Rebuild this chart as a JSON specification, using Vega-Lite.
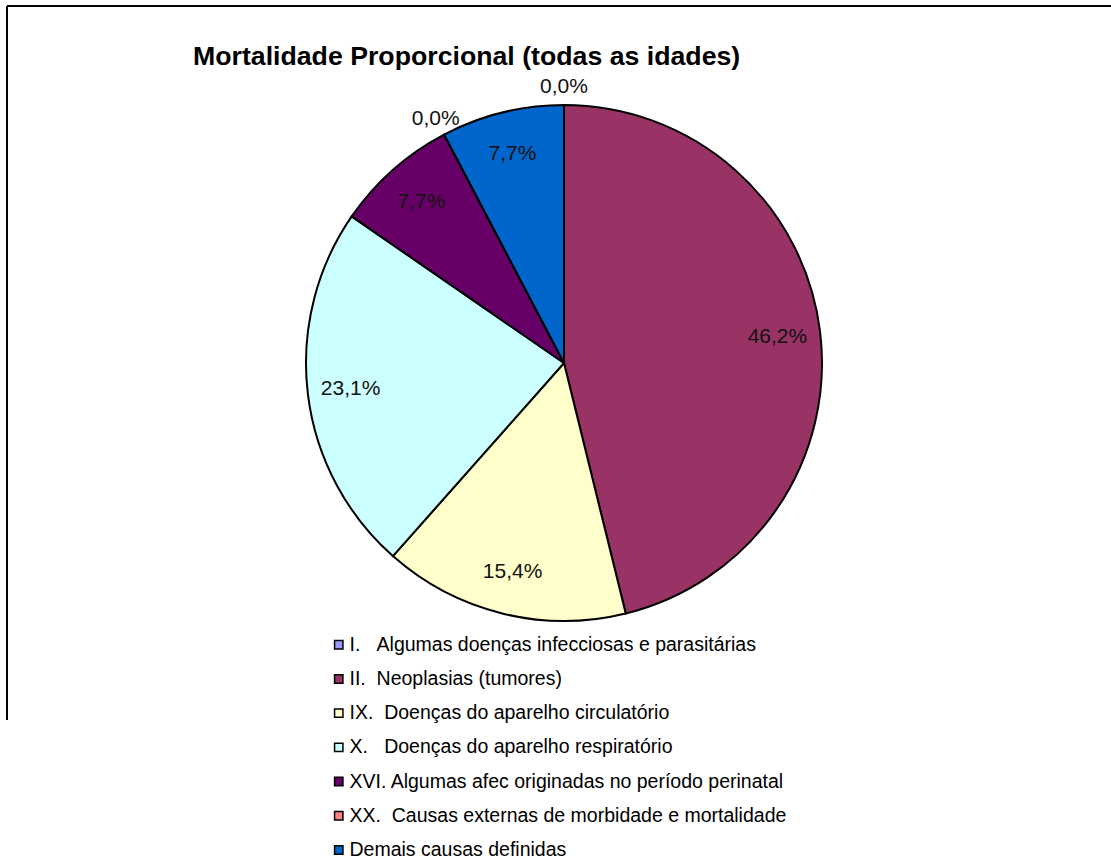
{
  "$schema": "https://vega.github.io/schema/vega-lite/v6.json",
  "autosize": {"type": "none"},
  "padding": {"left": 7, "top": 6, "right": 0, "bottom": 148},
  "width": 1114,
  "height": 714,
  "background": "#ffffff",
  "view": {"stroke": "#000000", "strokeWidth": 2, "strokeDash": [1114, 1828, 714, 0]},
  "title": {
    "text": "Mortalidade Proporcional (todas as idades)",
    "anchor": "start",
    "frame": "group",
    "orient": "top",
    "offset": -86,
    "baseline": "alphabetic",
    "dx": 186,
    "font": "Liberation Sans",
    "fontSize": 26.7,
    "fontWeight": "bold",
    "color": "#000000"
  },
  "data": {
    "values": [
      {"ord": 1, "cause": "I.\u00a0\u00a0\u00a0Algumas doenças infecciosas e parasitárias", "pct": 0.0, "label": "0,0%"},
      {"ord": 2, "cause": "II.\u00a0\u00a0Neoplasias (tumores)", "pct": 46.2, "label": "46,2%"},
      {"ord": 3, "cause": "IX.\u00a0\u00a0Doenças do aparelho circulatório", "pct": 15.4, "label": "15,4%"},
      {"ord": 4, "cause": "X.\u00a0\u00a0\u00a0Doenças do aparelho respiratório", "pct": 23.1, "label": "23,1%"},
      {"ord": 5, "cause": "XVI. Algumas afec originadas no período perinatal", "pct": 7.7, "label": "7,7%"},
      {"ord": 6, "cause": "XX.\u00a0\u00a0Causas externas de morbidade e mortalidade", "pct": 0.0, "label": "0,0%"},
      {"ord": 7, "cause": "Demais causas definidas", "pct": 7.7, "label": "7,7%"}
    ]
  },
  "encoding": {
    "theta": {"field": "pct", "type": "quantitative", "stack": true},
    "order": {"field": "ord", "type": "quantitative"}
  },
  "layer": [
    {
      "mark": {"type": "arc", "radius": 258, "stroke": "#000000", "strokeWidth": 2},
      "encoding": {
        "color": {
          "field": "cause",
          "type": "nominal",
          "sort": null,
          "scale": {
            "domain": [
              "I.\u00a0\u00a0\u00a0Algumas doenças infecciosas e parasitárias",
              "II.\u00a0\u00a0Neoplasias (tumores)",
              "IX.\u00a0\u00a0Doenças do aparelho circulatório",
              "X.\u00a0\u00a0\u00a0Doenças do aparelho respiratório",
              "XVI. Algumas afec originadas no período perinatal",
              "XX.\u00a0\u00a0Causas externas de morbidade e mortalidade",
              "Demais causas definidas"
            ],
            "range": ["#9999FF", "#993366", "#FFFFCC", "#CCFFFF", "#660066", "#FF8080", "#0066CC"]
          },
          "legend": {
            "title": null,
            "orient": "none",
            "legendX": 322,
            "legendY": 629,
            "padding": 0,
            "symbolType": "square",
            "symbolSize": 70,
            "symbolStrokeColor": "#000000",
            "symbolStrokeWidth": 1.5,
            "symbolOpacity": 1,
            "labelFont": "Liberation Sans",
            "labelFontSize": 19.5,
            "labelColor": "#000000",
            "labelLimit": 800,
            "labelOffset": 1,
            "rowPadding": 13.2
          }
        }
      }
    },
    {
      "mark": {"type": "text", "radius": 215, "font": "Liberation Sans", "fontSize": 21, "color": "#111111", "baseline": "middle", "align": "center"},
      "encoding": {
        "text": {"field": "label", "type": "nominal"},
        "opacity": {"condition": {"test": "datum.pct > 0", "value": 1}, "value": 0}
      }
    },
    {
      "mark": {"type": "text", "radius": 276, "font": "Liberation Sans", "fontSize": 21, "color": "#111111", "baseline": "middle", "align": "center"},
      "encoding": {
        "text": {"field": "label", "type": "nominal"},
        "opacity": {"condition": {"test": "datum.pct > 0", "value": 0}, "value": 1}
      }
    }
  ]
}
